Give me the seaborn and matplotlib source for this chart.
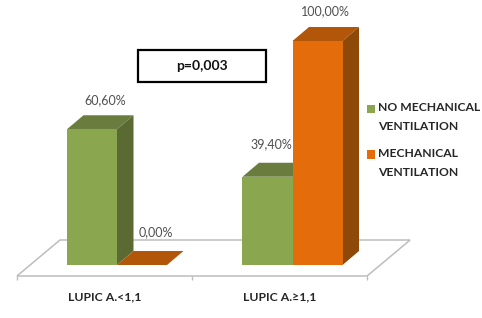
import pandas as pd
import seaborn as sns
import matplotlib
matplotlib.use("Agg")
import matplotlib.pyplot as plt
from matplotlib.patches import Polygon, Rectangle, Patch
from matplotlib.transforms import ScaledTranslation

groups = ["LUPIC A.<1,1", "LUPIC A.≥1,1"]
series = ["NO MECHANICAL\nVENTILATION", "MECHANICAL\nVENTILATION"]
no_mech = [60.6, 39.4]
mech = [0.0, 100.0]

# front, top, side
green = ["#8AA64F", "#6B7D3E", "#5A6A32"]
orange = ["#E46C0A", "#B2560A", "#8E4807"]

W, H = 482, 318
sns.set_style("white")
plt.rcParams["font.family"] = ["Lato", "DejaVu Sans"]

df = pd.DataFrame({
    "group": groups * 2,
    "value": no_mech + mech,
    "series": [series[0]] * 2 + [series[1]] * 2,
})

fig = plt.figure(figsize=(W / 100, H / 100), dpi=100)
ax = fig.add_axes([0, 1 - 276 / H, 1, 276 / H])

sns.barplot(data=df, x="group", y="value", hue="series", hue_order=series,
            palette=[green[0], orange[0]], width=0.57, gap=0, saturation=1,
            linewidth=0, legend=False, ax=ax)

# 175.5 px between groups, 2.24 px per percent
ax.set_xlim(-117 / 175.5, (W - 117) / 175.5)
ax.set_ylim(-11 / 2.24, 265 / 2.24)
depth_x = 16.5 / 175.5
depth_y = 14 / 2.24

# floor of the 3d box
fl, fr, fb, ft = -0.57, 1.425, -11 / 2.24, 25 / 2.24
fs = 43 / 175.5
ax.add_patch(Polygon([(fl, fb), (fr, fb), (fr + fs, ft), (fl + fs, ft)],
                     closed=True, fc="white", ec="#BDBDBD", lw=1.1, zorder=1, clip_on=False))

bars = []
for cont, cols, offs in zip(ax.containers, [green, orange], [[(13, 29), (4, 33)], [(14, 33), (8, 30)]]):
    for bar, off in zip(cont, offs):
        bars.append((bar, cols, off))
bars.sort(key=lambda b: b[0].get_x())

z = 2
for bar, cols, off in bars:
    x0 = bar.get_x()
    x1 = x0 + bar.get_width()
    v = bar.get_height()
    ax.add_patch(Polygon([(x0, v), (x1, v), (x1 + depth_x, v + depth_y), (x0 + depth_x, v + depth_y)],
                         closed=True, fc=cols[1], ec="none", zorder=z))
    ax.add_patch(Polygon([(x1, 0), (x1, v), (x1 + depth_x, v + depth_y), (x1 + depth_x, depth_y)],
                         closed=True, fc=cols[2], ec="none", zorder=z))
    bar.set_zorder(z + 0.5)
    ax.annotate(f"{v:.2f}%".replace(".", ","), ((x0 + x1) / 2, v), xytext=(off[0] * 0.72, off[1] * 0.72),
                textcoords="offset points", ha="center", va="center", fontsize=9,
                color="#505050", zorder=10)
    z += 1

sns.despine(ax=ax, left=True, bottom=True, top=True, right=True)
ax.set_xlabel("")
ax.set_ylabel("")
ax.set_yticks([])
ax.set_xticks([0, 1], groups)
ax.set_xticks([-0.57, 0.43, 1.425], minor=True)
ax.tick_params(axis="x", which="minor", length=3, width=1, color="#BDBDBD", bottom=True)
ax.tick_params(axis="x", which="major", length=0, pad=11)
shift = ScaledTranslation(-12.5 / 100, 0, fig.dpi_scale_trans)
for lab in ax.get_xticklabels():
    lab.set_transform(lab.get_transform() + shift)
    lab.set_fontsize(8.8)
    lab.set_fontweight("bold")
    lab.set_color("#262626")

# p value box
fig.add_artist(Rectangle((138 / W, 1 - 82 / H), 128 / W, 32 / H, transform=fig.transFigure,
                         fc="white", ec="black", lw=1.6))
fig.text(202 / W, 1 - 66 / H, "p=0,003", ha="center", va="center", fontsize=10,
         fontweight="bold", color="#111111")

handles = [Patch(fc=green[0], ec="none"), Patch(fc=orange[0], ec="none")]
leg = ax.legend(handles, series, loc="upper left", bbox_to_anchor=(367 / W, 1 - 102 / H),
                bbox_transform=fig.transFigure, frameon=False, borderpad=0, borderaxespad=0,
                handlelength=0.7, handleheight=0.7, handletextpad=0.25, labelspacing=1.35,
                prop={"family": ["Lato", "DejaVu Sans"], "weight": "bold", "size": 8.7}, labelcolor="#262626")
for t in leg.get_texts():
    t.set_linespacing(1.85)
# marker sits level with the first line of its label
for h in leg.legend_handles:
    h.set_y(h.get_y() + 6.0)

fig.savefig("out.png", dpi=100)
